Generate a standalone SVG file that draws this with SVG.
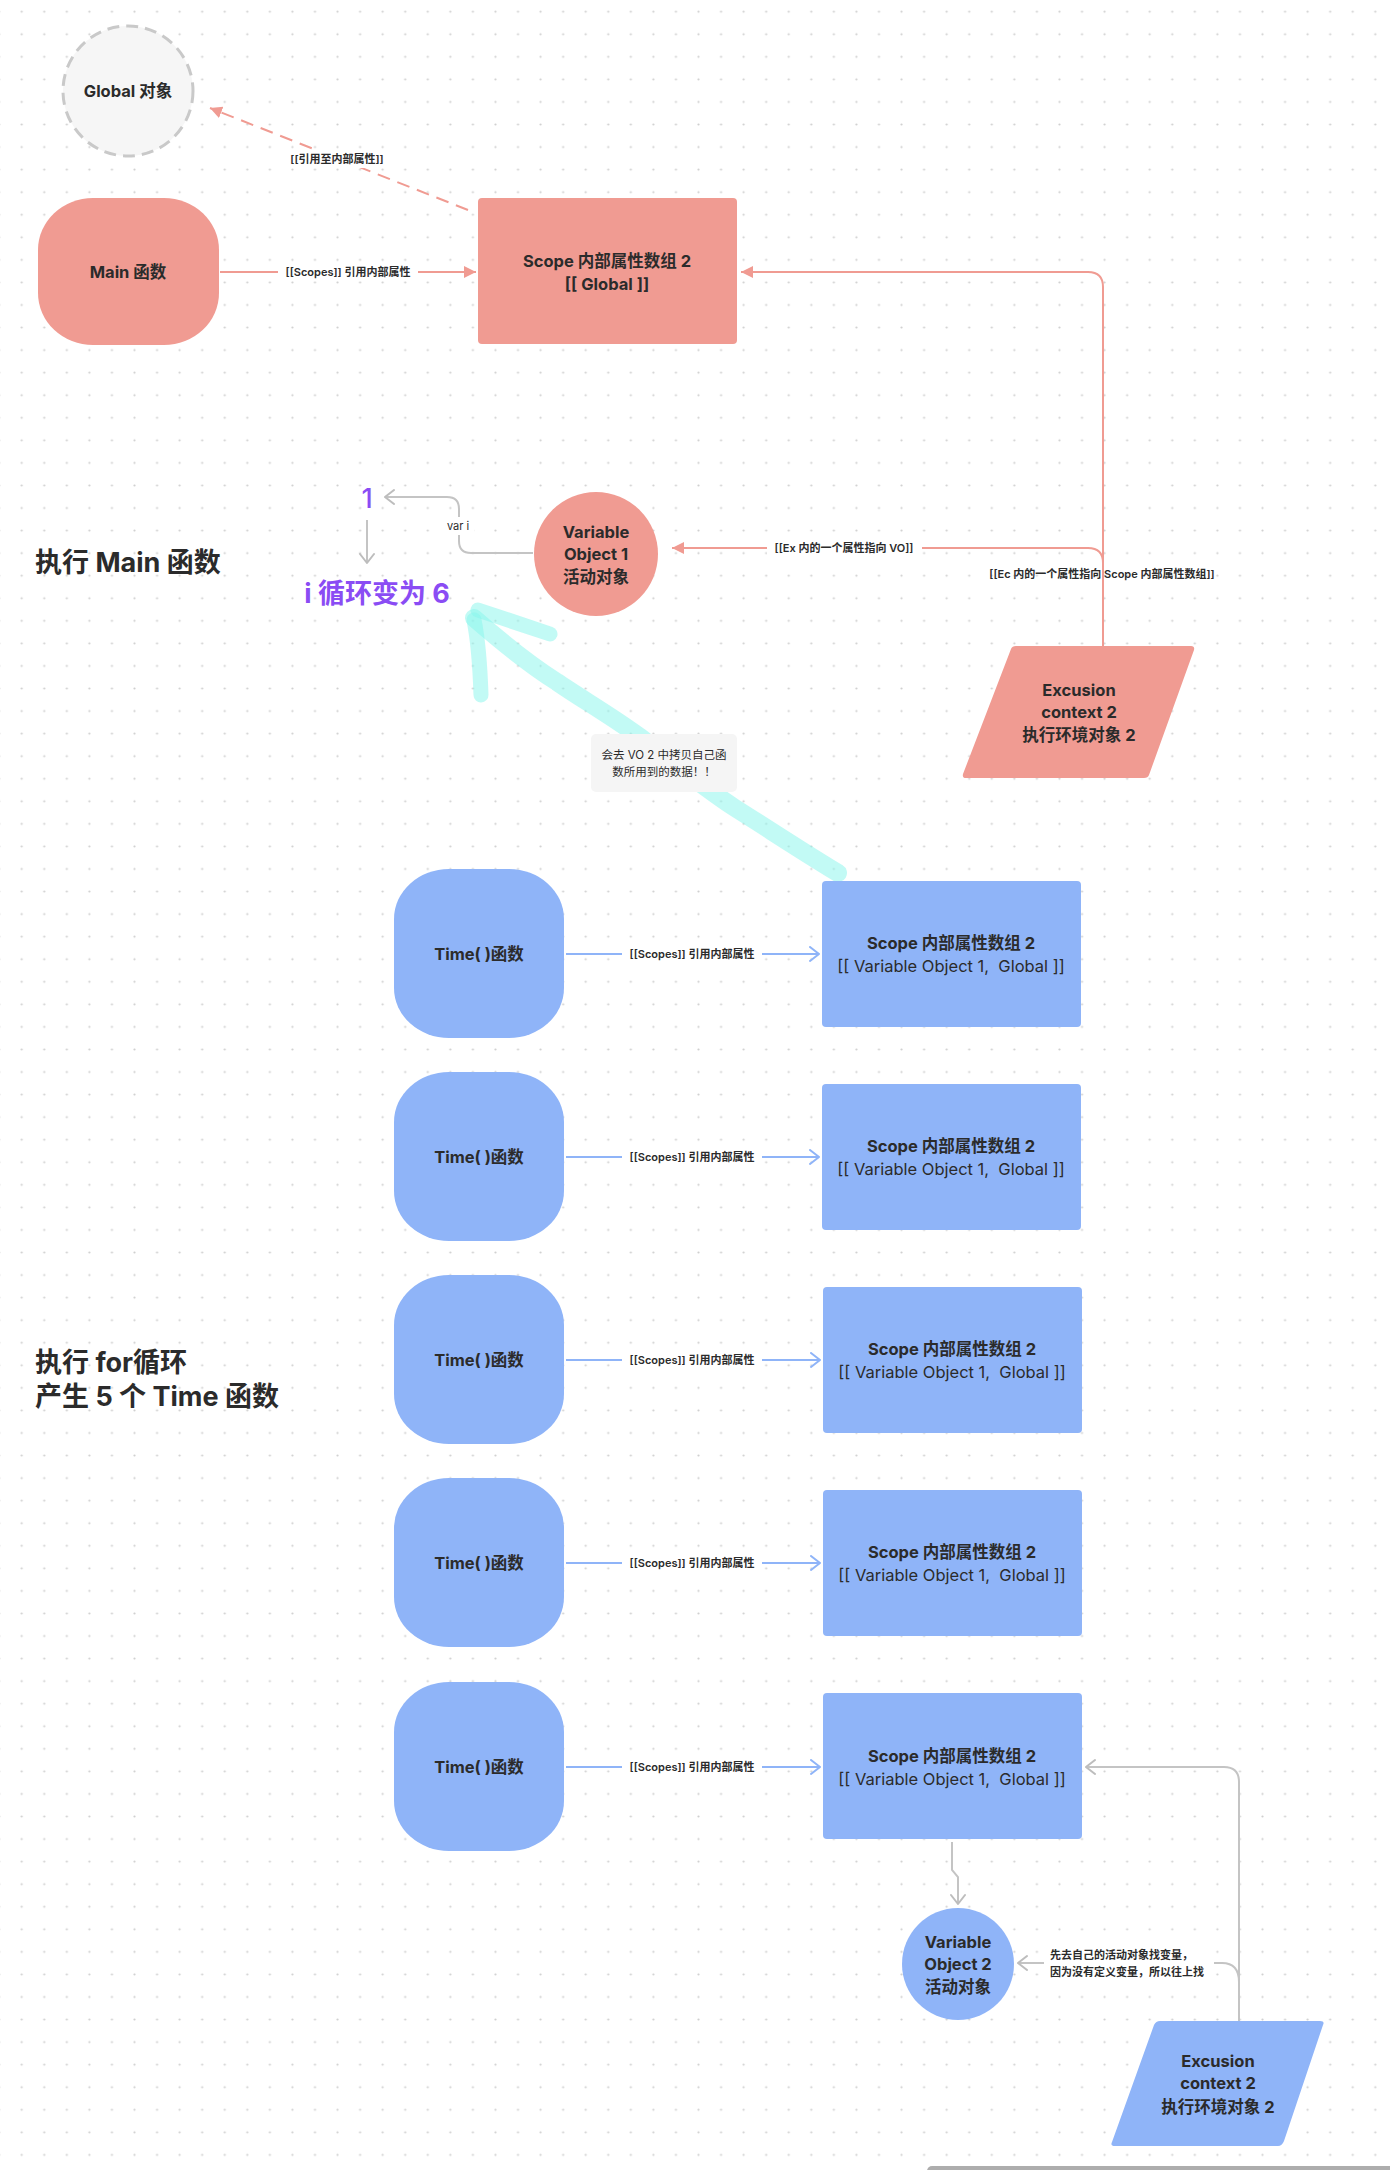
<svg xmlns="http://www.w3.org/2000/svg" width="1390" height="2170" viewBox="0 0 1390 2170">
<defs>
  <pattern id="dots" x="10.42" y="0.42" width="22.56" height="22.56" patternUnits="userSpaceOnUse">
    <circle cx="11.28" cy="11.28" r="1.1" fill="#cfcfcf"/>
  </pattern>
  <marker id="triPink" markerUnits="userSpaceOnUse" markerWidth="14" markerHeight="14" refX="12" refY="6" orient="auto">
    <path d="M0,0 L12,6 L0,12 z" fill="#f09b92"/>
  </marker>
  <marker id="chevBlue" markerUnits="userSpaceOnUse" markerWidth="16" markerHeight="18" refX="11" refY="8" orient="auto">
    <path d="M2,1 L11,8 L2,15" fill="none" stroke="#8fb4f8" stroke-width="2" stroke-linecap="round" stroke-linejoin="round"/>
  </marker>
  <marker id="chevGray" markerUnits="userSpaceOnUse" markerWidth="16" markerHeight="18" refX="11" refY="8" orient="auto">
    <path d="M2,1 L11,8 L2,15" fill="none" stroke="#bdbdbd" stroke-width="2" stroke-linecap="round" stroke-linejoin="round"/>
  </marker>
  <style>
    .t { font-family: Inter, "Noto Sans CJK SC", sans-serif; fill: #2b2b2b; text-anchor: middle; dominant-baseline: central; }
    .b16 { font-size: 16.5px; font-weight: 700; }
    .r16 { font-size: 16.5px; font-weight: 400; }
    .lbl { font-size: 11px; font-weight: 600; }
    .h { font-size: 27px; font-weight: 700; text-anchor: start; }
    .pur { fill: #8a4cf4; font-weight: 700; }
    .pink { fill: #f09b92; }
    .blue { fill: #8fb4f8; }
    .cp { fill: none; stroke: #f09b92; stroke-width: 2; }
    .cb { fill: none; stroke: #8fb4f8; stroke-width: 2; }
    .cg { fill: none; stroke: #c4c4c4; stroke-width: 2; }
    .bg { fill: #ffffff; }
  </style>
</defs>
<rect x="0" y="0" width="1390" height="2170" fill="#ffffff"/>
<rect x="0" y="0" width="1390" height="2170" fill="url(#dots)"/>

<!-- headings -->
<text class="t h" x="35" y="562">执行 Main 函数</text>
<text class="t h" x="35" y="1362">执行 for循环</text>
<text class="t h" x="35" y="1396">产生 5 个 Time 函数</text>

<!-- highlighter arrow -->
<g id="highlight" fill="none" stroke="#86f6ec" stroke-opacity="0.5" stroke-linecap="round" stroke-linejoin="round">
  <path d="M838,873 C800,850 770,830 735,808 C700,785 670,760 640,737 C610,715 580,698 557,682 C530,665 505,645 474,618" stroke-width="18"/>
  <path d="M478,610 L550,634" stroke-width="15"/>
  <path d="M474,620 C478,640 480,665 481,695" stroke-width="15"/>
</g>

<!-- connectors -->
<g id="connectors">
  <!-- Global dashed -->
  <path class="cp" d="M468,210 L210,108" stroke-dasharray="13,8" marker-end="url(#triPink)"/>
  <rect class="bg" x="283" y="150" width="108" height="18"/>
  <text class="t lbl" x="337" y="159">[[引用至内部属性]]</text>
  <!-- Main -> Scope -->
  <path class="cp" d="M220,272 L476,272" marker-end="url(#triPink)"/>
  <rect class="bg" x="278" y="263" width="140" height="18"/>
  <text class="t lbl" x="348" y="272">[[Scopes]] 引用内部属性</text>
  <!-- EC2 -> Scope pink -->
  <path class="cp" d="M1103,646 L1103,287 Q1103,272 1088,272 L741,272" marker-end="url(#triPink)"/>
  <!-- EC2 -> VO1 -->
  <path class="cp" d="M1103,580 L1103,563 Q1103,548 1088,548 L672,548" marker-end="url(#triPink)"/>
  <rect class="bg" x="767" y="539" width="155" height="18"/>
  <text class="t lbl" x="844" y="548">[[Ex 内的一个属性指向 VO]]</text>
  <text class="t lbl" x="1102" y="574">[[Ec 内的一个属性指向 Scope 内部属性数组]]</text>
  <!-- var i -->
  <path class="cg" d="M533,553 L471,553 Q459,553 459,541 L459,509 Q459,497 447,497 L385,497" marker-end="url(#chevGray)"/>
  <rect class="bg" x="444" y="517" width="30" height="18"/>
  <text class="t lbl" x="458" y="526" style="font-weight:400">var i</text>
  <path class="cg" d="M367,520 L367,563" marker-end="url(#chevGray)"/>
  <!-- Time -> Scope rows -->
  <g>
    <path class="cb" d="M566,954 L819,954" marker-end="url(#chevBlue)"/>
    <rect class="bg" x="622" y="945" width="140" height="18"/>
    <text class="t lbl" x="692" y="954">[[Scopes]] 引用内部属性</text>
  </g>
  <g>
    <path class="cb" d="M566,1157 L819,1157" marker-end="url(#chevBlue)"/>
    <rect class="bg" x="622" y="1148" width="140" height="18"/>
    <text class="t lbl" x="692" y="1157">[[Scopes]] 引用内部属性</text>
  </g>
  <g>
    <path class="cb" d="M566,1360 L820,1360" marker-end="url(#chevBlue)"/>
    <rect class="bg" x="622" y="1351" width="140" height="18"/>
    <text class="t lbl" x="692" y="1360">[[Scopes]] 引用内部属性</text>
  </g>
  <g>
    <path class="cb" d="M566,1563 L820,1563" marker-end="url(#chevBlue)"/>
    <rect class="bg" x="622" y="1554" width="140" height="18"/>
    <text class="t lbl" x="692" y="1563">[[Scopes]] 引用内部属性</text>
  </g>
  <g>
    <path class="cb" d="M566,1767 L820,1767" marker-end="url(#chevBlue)"/>
    <rect class="bg" x="622" y="1758" width="140" height="18"/>
    <text class="t lbl" x="692" y="1767">[[Scopes]] 引用内部属性</text>
  </g>
  <!-- bottom gray -->
  <path class="cg" d="M952,1842 L952,1870 L958,1877 L958,1904" marker-end="url(#chevGray)"/>
  <path class="cg" d="M1239,2021 L1239,1782 Q1239,1767 1224,1767 L1086,1767" marker-end="url(#chevGray)"/>
  <path class="cg" d="M1239,1982 Q1239,1963 1222,1963 L1018,1963" marker-end="url(#chevGray)"/>
  <rect class="bg" x="1044" y="1945" width="170" height="36"/>
  <text class="t lbl" x="1050" y="1955" style="text-anchor:start">先去自己的活动对象找变量，</text>
  <text class="t lbl" x="1050" y="1972" style="text-anchor:start">因为没有定义变量，所以往上找</text>
</g>

<!-- nodes -->
<g id="global">
  <circle cx="128" cy="91" r="65" fill="#f6f6f6" stroke="#c9c9c9" stroke-width="3" stroke-dasharray="12,7"/>
  <text class="t b16" x="128" y="91">Global 对象</text>
</g>
<g id="main">
  <rect class="pink" x="38" y="198" width="181" height="147" rx="55" ry="52"/>
  <text class="t b16" x="128" y="272">Main 函数</text>
</g>
<g id="scope-main">
  <rect class="pink" x="478" y="198" width="259" height="146" rx="4"/>
  <text class="t b16" x="607" y="261">Scope 内部属性数组 2</text>
  <text class="t b16" x="607" y="284">[[ Global ]]</text>
</g>
<g id="vo1">
  <circle class="pink" cx="596" cy="554" r="62"/>
  <text class="t b16" x="596" y="532">Variable</text>
  <text class="t b16" x="596" y="554">Object 1</text>
  <text class="t b16" x="596" y="577">活动对象</text>
</g>
<g id="ec-main">
  <path class="pink" d="M1016,646 L1191,646 Q1195,646 1194,650 L1149,775 Q1148,778 1144,778 L966,778 Q962,778 963,774 L1011,649 Q1012,646 1016,646 z"/>
  <text class="t b16" x="1079" y="690">Excusion</text>
  <text class="t b16" x="1079" y="712">context 2</text>
  <text class="t b16" x="1079" y="735">执行环境对象 2</text>
</g>
<g id="i-values">
  <text class="t" x="367" y="498" style="font-size:27px;fill:#8a4cf4;font-weight:500">1</text>
  <text class="t pur" x="377" y="593" style="font-size:27px">i 循环变为 6</text>
</g>
<g id="note">
  <rect x="591" y="734" width="146" height="58" rx="5" fill="#f5f5f5"/>
  <text class="t" x="664" y="755" style="font-size:11.5px">会去 VO 2 中拷贝自己函</text>
  <text class="t" x="664" y="772" style="font-size:11.5px">数所用到的数据！！</text>
</g>

<g id="time1">
  <rect class="blue" x="394" y="869" width="170" height="169" rx="55" ry="50"/>
  <text class="t b16" x="479" y="954">Time( )函数</text>
</g>
<g id="scope1">
  <rect class="blue" x="822" y="881" width="259" height="146" rx="4"/>
  <text class="t b16" x="951" y="943">Scope 内部属性数组 2</text>
  <text class="t r16" x="951" y="966">[[ Variable Object 1,&#160; Global ]]</text>
</g>
<g id="time2">
  <rect class="blue" x="394" y="1072" width="170" height="169" rx="55" ry="50"/>
  <text class="t b16" x="479" y="1157">Time( )函数</text>
</g>
<g id="scope2">
  <rect class="blue" x="822" y="1084" width="259" height="146" rx="4"/>
  <text class="t b16" x="951" y="1146">Scope 内部属性数组 2</text>
  <text class="t r16" x="951" y="1169">[[ Variable Object 1,&#160; Global ]]</text>
</g>
<g id="time3">
  <rect class="blue" x="394" y="1275" width="170" height="169" rx="55" ry="50"/>
  <text class="t b16" x="479" y="1360">Time( )函数</text>
</g>
<g id="scope3">
  <rect class="blue" x="823" y="1287" width="259" height="146" rx="4"/>
  <text class="t b16" x="952" y="1349">Scope 内部属性数组 2</text>
  <text class="t r16" x="952" y="1372">[[ Variable Object 1,&#160; Global ]]</text>
</g>
<g id="time4">
  <rect class="blue" x="394" y="1478" width="170" height="169" rx="55" ry="50"/>
  <text class="t b16" x="479" y="1563">Time( )函数</text>
</g>
<g id="scope4">
  <rect class="blue" x="823" y="1490" width="259" height="146" rx="4"/>
  <text class="t b16" x="952" y="1552">Scope 内部属性数组 2</text>
  <text class="t r16" x="952" y="1575">[[ Variable Object 1,&#160; Global ]]</text>
</g>
<g id="time5">
  <rect class="blue" x="394" y="1682" width="170" height="169" rx="55" ry="50"/>
  <text class="t b16" x="479" y="1767">Time( )函数</text>
</g>
<g id="scope5">
  <rect class="blue" x="823" y="1693" width="259" height="146" rx="4"/>
  <text class="t b16" x="952" y="1756">Scope 内部属性数组 2</text>
  <text class="t r16" x="952" y="1779">[[ Variable Object 1,&#160; Global ]]</text>
</g>
<g id="vo2">
  <circle class="blue" cx="958" cy="1964" r="56"/>
  <text class="t b16" x="958" y="1942">Variable</text>
  <text class="t b16" x="958" y="1964">Object 2</text>
  <text class="t b16" x="958" y="1987">活动对象</text>
</g>
<g id="ec-time">
  <path class="blue" d="M1160,2021 L1320,2021 Q1325,2021 1323,2025 L1284,2141 Q1282,2146 1278,2146 L1115,2146 Q1110,2146 1112,2142 L1154,2025 Q1156,2021 1160,2021 z"/>
  <text class="t b16" x="1218" y="2061">Excusion</text>
  <text class="t b16" x="1218" y="2083">context 2</text>
  <text class="t b16" x="1218" y="2107">执行环境对象 2</text>
</g>

<rect x="927" y="2166" width="480" height="10" rx="5" fill="#adadad"/>
</svg>
